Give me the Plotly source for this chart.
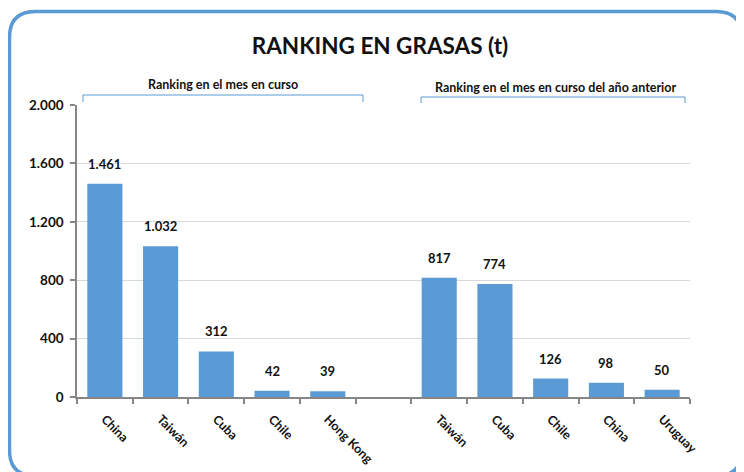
import plotly.graph_objects as go

# ---- data ----
cats_current = ["China", "Taiwán", "Cuba", "Chile", "Hong Kong"]
vals_current = [1461, 1032, 312, 42, 39]
cats_previous = ["Taiwán", "Cuba", "Chile", "China", "Uruguay"]
vals_previous = [817, 774, 126, 98, 50]
group_labels = ["Ranking en el mes en curso", "Ranking en el mes en curso del año anterior"]
title_text = "RANKING EN GRASAS (t)"
y_ticks = [0, 400, 800, 1200, 1600, 2000]

# ---- layout geometry (screen pixels; page body has an 8px margin) ----
OFF = 8
W, H = 744 - OFF, 472 - OFF
L, R, T, B = 77 - OFF, 744 - 690, 105 - OFF, 472 - 397
PW, PH = W - L - R, H - T - B

def px(x):
    return (x - OFF - L) / PW

def py(y):
    return (H - B - (y - OFF)) / PH

FONT = "Lato"
BLUE = "#5B9BD5"
GRAY = "#868686"

x_current = list(range(len(cats_current)))
x_previous = [len(cats_current) + 1 + i for i in range(len(cats_previous))]
xs = x_current + x_previous
vals = vals_current + vals_previous
labels = cats_current + cats_previous

def fmt(v):
    return f"{v:,}".replace(",", ".")

fig = go.Figure()
fig.add_trace(go.Bar(
    x=xs, y=vals, width=0.63,
    marker=dict(color=BLUE, line=dict(width=0)),
    hoverinfo="skip", showlegend=False,
))

annotations = []
for x, v in zip(xs, vals):
    annotations.append(dict(
        x=x, y=v, xref="x", yref="y", text=fmt(v), showarrow=False,
        yanchor="middle", yshift=20,
        font=dict(family=FONT, size=13, color="#111111", weight="bold"),
    ))

# group labels
annotations.append(dict(
    x=px(223), y=py(85), xref="paper", yref="paper", text=group_labels[0],
    showarrow=False, xanchor="center", yanchor="middle",
    font=dict(family=FONT, size=12.5, color="#111111", weight="bold"),
))
annotations.append(dict(
    x=px(555), y=py(87), xref="paper", yref="paper", text=group_labels[1],
    showarrow=False, xanchor="center", yanchor="middle",
    font=dict(family=FONT, size=12.5, color="#111111", weight="bold"),
))

shapes = []
# brackets
for (x0, x1, ytop, ybot) in [(83, 363, 95, 102), (421, 685, 97, 103)]:
    path = (f"M {px(x0)},{py(ybot)} L {px(x0)},{py(ytop)} "
            f"L {px(x1)},{py(ytop)} L {px(x1)},{py(ybot)}")
    shapes.append(dict(type="path", xref="paper", yref="paper", path=path,
                       line=dict(color=BLUE, width=1)))

# rounded frame (bottom edge falls just outside the visible area)
fx0, fx1, fy0, fy1, rad = 9.5, 742, 11.5, 476, 26
pts = [
    f"M {px(fx0 + rad)},{py(fy0)}",
    f"L {px(fx1 - rad)},{py(fy0)}",
    f"Q {px(fx1)},{py(fy0)} {px(fx1)},{py(fy0 + rad)}",
    f"L {px(fx1)},{py(fy1 - rad)}",
    f"Q {px(fx1)},{py(fy1)} {px(fx1 - rad)},{py(fy1)}",
    f"L {px(fx0 + rad)},{py(fy1)}",
    f"Q {px(fx0)},{py(fy1)} {px(fx0)},{py(fy1 - rad)}",
    f"L {px(fx0)},{py(fy0 + rad)}",
    f"Q {px(fx0)},{py(fy0)} {px(fx0 + rad)},{py(fy0)}",
    "Z",
]
shapes.append(dict(type="path", xref="paper", yref="paper", path=" ".join(pts),
                   line=dict(color=BLUE, width=3.5)))

n_slots = len(cats_current) + 1 + len(cats_previous)

fig.update_layout(
    width=W, height=H,
    margin=dict(l=L, r=R, t=T, b=B, autoexpand=False),
    paper_bgcolor="white", plot_bgcolor="white",
    separators=",.",
    title=dict(text=title_text, x=(380 - OFF) / W, xanchor="center",
               y=1 - (46 - OFF) / H, yanchor="middle", yref="container",
               font=dict(family=FONT, size=22.5, color="#111111", weight="bold")),
    xaxis=dict(
        range=[-0.5, n_slots - 0.5],
        tickmode="array", tickvals=xs, ticktext=labels,
        tickangle=45, ticks="", ticklabelstandoff=8,
        tickfont=dict(family=FONT, size=12.5, color="#111111", weight="bold"),
        showline=True, linecolor=GRAY, linewidth=2,
        showgrid=False, zeroline=False,
        minor=dict(tickmode="array", tickvals=[i - 0.5 for i in range(n_slots + 1)],
                   ticks="outside", ticklen=5, tickcolor=GRAY, tickwidth=1.5,
                   showgrid=False),
        fixedrange=True,
    ),
    yaxis=dict(
        range=[0, 2000],
        tickmode="array", tickvals=y_ticks, tickformat=",d",
        ticks="outside", ticklen=5, tickcolor=GRAY, tickwidth=1.5,
        tickfont=dict(family=FONT, size=13.5, color="#111111", weight="bold"),
        showline=True, linecolor=GRAY, linewidth=1.5,
        showgrid=True, gridcolor="#D9D9D9", gridwidth=1,
        zeroline=False, ticklabelstandoff=4,
        fixedrange=True,
    ),
    annotations=annotations,
    shapes=shapes,
)

fig.write_html("out.html")
